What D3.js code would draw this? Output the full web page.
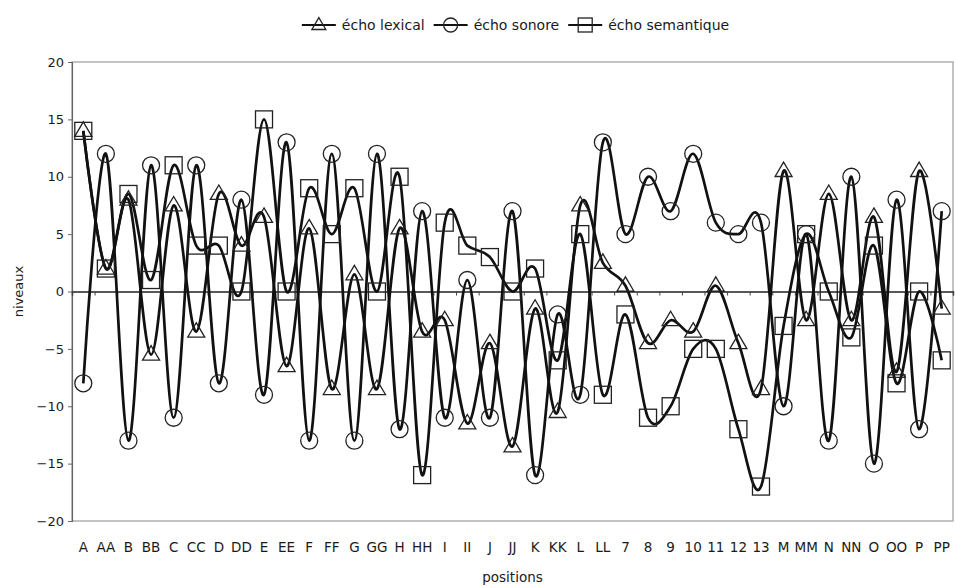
<!DOCTYPE html>
<html>
<head>
<meta charset="utf-8">
<script src="https://cdn.jsdelivr.net/npm/d3@7"></script>
<style>
  body { margin: 0; background: #fff; }
  text { font-family: "DejaVu Sans", sans-serif; fill: #1a1a1a; }
</style>
</head>
<body>
<svg id="chart" width="956" height="586"></svg>
<script>
/* les donnees */
var positions = ["A","AA","B","BB","C","CC","D","DD","E","EE","F","FF","G","GG","H","HH","I","II","J","JJ",
                 "K","KK","L","LL","7","8","9","10","11","12","13","M","MM","N","NN","O","OO","P","PP"];

var echoLexical = [14, 2, 8, -5.5, 7.5, -3.5, 8.5, 4, 6.5, -6.5, 5.5, -8.5, 1.5, -8.5, 5.5, -3.5, -2.5, -11.5, -4.5, -13.5,
                   -1.5, -10.5, 7.5, 2.5, 0.5, -4.5, -2.5, -3.5, 0.5, -4.5, -8.5, 10.5, -2.5, 8.5, -2.5, 6.5, -7, 10.5, -1.5];

var echoSonore = [-8, 12, -13, 11, -11, 11, -8, 8, -9, 13, -13, 12, -13, 12, -12, 7, -11, 1, -11, 7,
                  -16, -2, -9, 13, 5, 10, 7, 12, 6, 5, 6, -10, 5, -13, 10, -15, 8, -12, 7];

var echoSemantique = [14, 2, 8.5, 1, 11, 4, 4, 0, 15, 0, 9, 5, 9, 0, 10, -16, 6, 4, 3, 0,
                      2, -6, 5, -9, -2, -11, -10, -5, -5, -12, -17, -3, 5, 0, -4, 4, -8, 0, -6];

var yTicks = [-20, -15, -10, -5, 0, 5, 10, 15, 20];

var seriesNames = ["écho lexical", "écho sonore", "écho semantique"];
var seriesValues = [echoLexical, echoSonore, echoSemantique];
var seriesMarkers = ["triangle", "circle", "square"];

var svg = d3.select("#chart"),
    margin = {top: 62, right: 3, bottom: 65, left: 72},
    width = +svg.attr("width") - margin.left - margin.right,
    height = +svg.attr("height") - margin.top - margin.bottom;

var x = d3.scaleBand().domain(positions).range([0, width]);
var xEdge = d3.scaleLinear().domain([0, positions.length]).range([0, width]);
var y = d3.scaleLinear().domain([-20, 20]).range([height, 0]);

var g = svg.append("g")
    .attr("transform", "translate(" + margin.left + "," + margin.top + ")");

/* cadre de la zone de trace */
g.append("rect")
    .attr("width", width)
    .attr("height", height)
    .attr("fill", "none")
    .attr("stroke", "#b4b4b4")
    .attr("stroke-width", 1.6);

/* axe y */
var yAxis = g.append("g")
    .attr("class", "axis axis--y")
    .call(d3.axisLeft(y).tickValues(yTicks).tickSize(4).tickPadding(4));
yAxis.select(".domain").attr("stroke", "#666").attr("stroke-width", 1.2);
yAxis.selectAll(".tick line").attr("stroke", "#666");
yAxis.selectAll(".tick text").style("font-size", "13px").attr("fill", "#1a1a1a");

/* ligne du zero avec les petits tirets */
var zeroAxis = g.append("g")
    .attr("transform", "translate(0," + y(0) + ")")
    .call(d3.axisBottom(xEdge).tickValues(d3.range(positions.length + 1)).tickSize(4).tickFormat(""));
zeroAxis.select(".domain").attr("stroke", "#222").attr("stroke-width", 1.4);
zeroAxis.selectAll(".tick line").attr("stroke", "#444");

/* labels des positions */
var xAxis = g.append("g")
    .attr("transform", "translate(0," + (height + 21) + ")")
    .call(d3.axisBottom(x).tickSize(0).tickPadding(0));
xAxis.select(".domain").remove();
xAxis.selectAll(".tick text").style("font-size", "13.5px").attr("fill", "#1a1a1a");

/* titres des axes */
svg.append("text")
    .attr("transform", "translate(23," + (margin.top + y(0)) + ") rotate(-90)")
    .attr("text-anchor", "middle")
    .style("font-size", "13px")
    .text("niveaux");

svg.append("text")
    .attr("x", margin.left + width / 2)
    .attr("y", 582)
    .attr("text-anchor", "middle")
    .style("font-size", "13.5px")
    .text("positions");

/* les lignes lissees */
var line = d3.line()
    .x(function(d, i) { return x(positions[i]) + x.bandwidth() / 2; })
    .y(function(d) { return y(d); })
    .curve(d3.curveCatmullRom.alpha(0));

function drawMarker(sel, type, size) {
  if (type === "circle") {
    sel.append("circle").attr("r", size / 2);
  } else if (type === "square") {
    sel.append("rect").attr("x", -size / 2).attr("y", -size / 2).attr("width", size).attr("height", size);
  } else {
    var h = size * 0.85;
    sel.append("path").attr("d", "M0," + (-h * 0.62) + "L" + (size / 2) + "," + (h * 0.38) + "L" + (-size / 2) + "," + (h * 0.38) + "Z");
  }
  sel.selectAll("*").attr("fill", "none").attr("stroke", "#222").attr("stroke-width", 1.3);
}

seriesValues.forEach(function(values, s) {
  g.append("path")
      .datum(values)
      .attr("fill", "none")
      .attr("stroke", "#111")
      .attr("stroke-width", 2.7)
      .attr("d", line);
});

seriesValues.forEach(function(values, s) {
  g.selectAll(".marker" + s)
    .data(values)
    .enter().append("g")
      .attr("class", "marker" + s)
      .attr("transform", function(d, i) {
        return "translate(" + (x(positions[i]) + x.bandwidth() / 2) + "," + y(d) + ")";
      })
      .each(function() { drawMarker(d3.select(this), seriesMarkers[s], 17); });
});

/* legende, centree au-dessus de la zone de trace */
var legend = svg.append("g");
var lx = 0;
seriesNames.forEach(function(name, s) {
  var item = legend.append("g").attr("transform", "translate(" + lx + ",0)");
  item.append("line").attr("x1", 0).attr("x2", 34).attr("stroke", "#111").attr("stroke-width", 2.2);
  var m = item.append("g").attr("transform", "translate(17,0)");
  drawMarker(m, seriesMarkers[s], 14);
  var t = item.append("text")
      .attr("x", 40)
      .attr("dy", "0.35em")
      .style("font-size", "14px")
      .text(name);
  lx += 40 + t.node().getComputedTextLength() + 9;
});
legend.attr("transform", "translate(" + (margin.left + width / 2 - (lx - 9) / 2 + 3) + ",25)");
</script>
</body>
</html>
